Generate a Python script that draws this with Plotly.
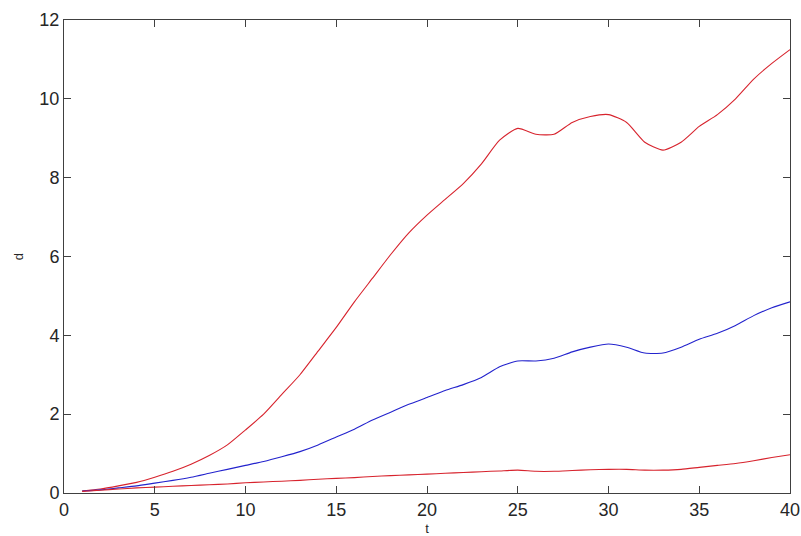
import plotly.graph_objects as go

t = list(range(1, 41))
upper_red = [0.05, 0.1, 0.18, 0.27, 0.4, 0.55, 0.73, 0.95, 1.22, 1.6,
             2.0, 2.5, 3.0, 3.6, 4.2, 4.85, 5.45, 6.05, 6.6, 7.05,
             7.45, 7.85, 8.35, 8.95, 9.25, 9.1, 9.1, 9.4, 9.55, 9.6,
             9.4, 8.9, 8.7, 8.9, 9.3, 9.6, 10.0, 10.5, 10.9, 11.25]
blue = [0.05, 0.08, 0.13, 0.18, 0.25, 0.32, 0.4, 0.5, 0.6, 0.7,
        0.8, 0.92, 1.05, 1.22, 1.42, 1.62, 1.85, 2.05, 2.25, 2.42,
        2.6, 2.75, 2.93, 3.2, 3.35, 3.35, 3.42, 3.58, 3.7, 3.78,
        3.7, 3.55, 3.55, 3.7, 3.9, 4.05, 4.25, 4.5, 4.7, 4.85]
lower_red = [0.04, 0.07, 0.1, 0.13, 0.15, 0.17, 0.19, 0.21, 0.23, 0.26,
             0.28, 0.3, 0.32, 0.35, 0.37, 0.39, 0.42, 0.44, 0.46, 0.48,
             0.5, 0.52, 0.54, 0.56, 0.58, 0.55, 0.55, 0.57, 0.59, 0.6,
             0.6, 0.58, 0.58, 0.6, 0.65, 0.7, 0.75, 0.82, 0.9, 0.97]

x_ticks = [0, 5, 10, 15, 20, 25, 30, 35, 40]
y_ticks = [0, 2, 4, 6, 8, 10, 12]

red = "rgb(215,35,45)"
blu = "rgb(35,35,205)"

fig = go.Figure()
for ys, col in [(upper_red, red), (blue, blu), (lower_red, red)]:
    fig.add_trace(go.Scatter(x=t, y=ys, mode="lines",
                             line=dict(color=col, width=1.1, shape="spline", smoothing=0.6)))

axis_common = dict(
    showgrid=False, zeroline=False, showline=True, linecolor="#404040", linewidth=1,
    mirror="ticks", ticks="inside", ticklen=7, tickcolor="#404040", tickwidth=1,
    ticklabeloverflow="allow", automargin=False,
    tickfont=dict(family="Liberation Sans, Arial", size=18, color="#262626"),
)

fig.update_layout(
    width=801, height=536,
    margin=dict(l=64, r=11, t=20, b=43),
    paper_bgcolor="white", plot_bgcolor="white",
    showlegend=False,
    xaxis=dict(range=[0, 40.0001], tickvals=x_ticks, ticktext=[str(v) for v in x_ticks],
               title=dict(text="t", font=dict(family="Liberation Sans, Arial", size=13, color="#262626"), standoff=10),
               **axis_common),
    yaxis=dict(range=[0, 12.0001], tickvals=y_ticks, ticktext=[str(v) for v in y_ticks],
               title=dict(text="d", font=dict(family="Liberation Sans, Arial", size=13, color="#262626"), standoff=12),
               **axis_common),
)

fig.write_html("out.html")
